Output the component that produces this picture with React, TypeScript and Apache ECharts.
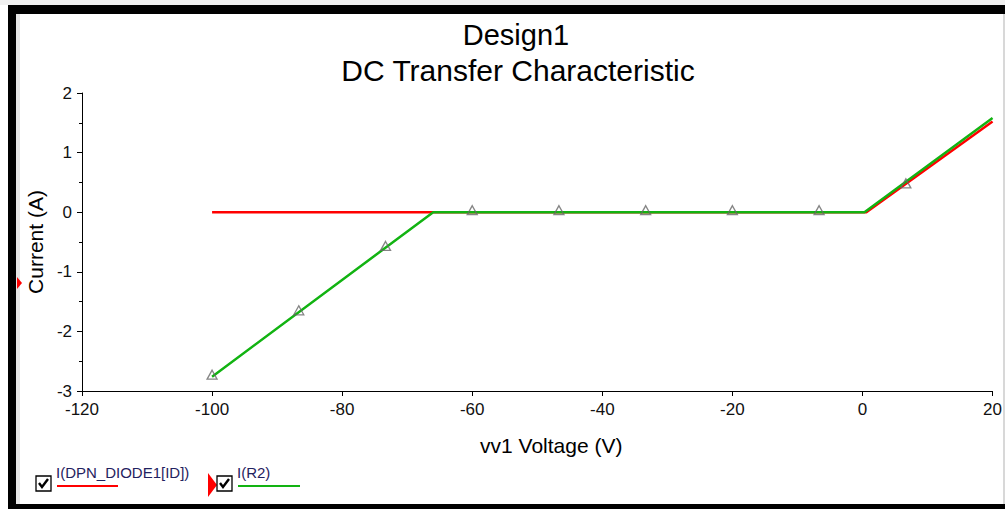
import React, { useEffect, useRef } from "react";
import * as echarts from "echarts";

// ---- data ----
const xTicks = { min: -120, max: 20, interval: 20 };
const yTicks = { min: -3, max: 2, interval: 1 };

const diodeV = [-100, -66, 0.6, 20];
const diodeI = [0, 0, 0, 1.52];

const r2V = [-100, -66, 0.3, 20];
const r2I = [-2.76, 0, 0, 1.58];

const markerV = [-100, -86.67, -73.33, -60, -46.67, -33.33, -20, -6.67, 6.67];
const markerI = [-2.76, -1.68, -0.6, 0, 0, 0, 0, 0, 0.45];

const titleLine1 = "Design1";
const titleLine2 = "DC Transfer Characteristic";
const xName = "vv1 Voltage (V)";
const yName = "Current (A)";
const legendNames = ["I(DPN_DIODE1[ID])", "I(R2)"];

const RED = "#ff0000";
const GREEN = "#12b312";
const SANS = "'Liberation Sans', Arial, sans-serif";

export default function App() {
  const ref = useRef<HTMLDivElement>(null);
  useEffect(() => {
    if (!ref.current) return;
    const chart = echarts.init(ref.current, undefined, { renderer: "svg" });
    const zip = (a: number[], b: number[]) => a.map((v, i) => [v, b[i]]);
    const check = (x: number, y: number) => [
      { type: "rect", shape: { x, y, width: 15, height: 15 }, style: { fill: "#fff", stroke: "#000", lineWidth: 1.3 } },
      { type: "polyline", shape: { points: [[x + 3, y + 7], [x + 6, y + 11], [x + 12, y + 3]] }, style: { stroke: "#000", lineWidth: 2.4, fill: null } },
    ];
    chart.setOption({
      animation: false,
      backgroundColor: "#fff",
      title: [
        { text: titleLine1, left: 511, textAlign: "center", top: 15, textStyle: { fontFamily: SANS, fontSize: 29, fontWeight: "normal", color: "#000" } },
        { text: titleLine2, left: 513, textAlign: "center", top: 50, textStyle: { fontFamily: SANS, fontSize: 30, fontWeight: "normal", color: "#000" } },
      ],
      grid: { left: 82, top: 93, width: 915, height: 298, containLabel: false },
      xAxis: {
        type: "value",
        min: xTicks.min,
        max: xTicks.max,
        interval: xTicks.interval,
        name: xName,
        nameLocation: "middle",
        nameGap: 44,
        nameTextStyle: { fontFamily: SANS, fontSize: 21, color: "#000", padding: [0, 0, 0, 28] },
        axisLine: { onZero: false, lineStyle: { color: "#000", width: 1 } },
        axisTick: { inside: false, length: 5, lineStyle: { color: "#000" } },
        axisLabel: { fontFamily: SANS, fontSize: 17, color: "#111", margin: 10 },
        splitLine: { show: false },
      },
      yAxis: {
        type: "value",
        min: yTicks.min,
        max: yTicks.max,
        interval: yTicks.interval,
        name: yName,
        nameLocation: "middle",
        nameGap: 36,
        nameRotate: 90,
        nameTextStyle: { fontFamily: SANS, fontSize: 21, color: "#000" },
        axisLine: { show: true, onZero: false, lineStyle: { color: "#000", width: 1 } },
        axisTick: { show: true, inside: false, length: 5, lineStyle: { color: "#000" } },
        minorTick: { show: true, splitNumber: 2, length: 3, lineStyle: { color: "#000" } },
        axisLabel: { fontFamily: SANS, fontSize: 17, color: "#111", margin: 10 },
        splitLine: { show: false },
      },
      series: [
        {
          type: "line",
          name: legendNames[0],
          data: zip(diodeV, diodeI),
          showSymbol: false,
          lineStyle: { color: RED, width: 2.5 },
          z: 2,
        },
        {
          type: "line",
          name: legendNames[1],
          data: zip(r2V, r2I),
          showSymbol: false,
          lineStyle: { color: GREEN, width: 2.5 },
          z: 3,
        },
        {
          type: "scatter",
          data: zip(markerV, markerI),
          symbol: "triangle",
          symbolSize: [10, 9],
          symbolOffset: [0, -2],
          itemStyle: { color: "transparent", borderColor: "#666", borderWidth: 1.3 },
          z: 4,
        },
      ],
      graphic: [
        // frame
        { type: "rect", shape: { x: 0, y: 0, width: 1005, height: 5 }, style: { fill: "#f0f0f0" } },
        { type: "rect", shape: { x: 8, y: 5, width: 997, height: 9 }, style: { fill: "#000" } },
        { type: "rect", shape: { x: 8, y: 5, width: 8, height: 504 }, style: { fill: "#000" } },
        { type: "rect", shape: { x: 16, y: 14, width: 4, height: 490 }, style: { fill: "#e6e6e6" } },
        { type: "rect", shape: { x: 8, y: 504, width: 997, height: 5 }, style: { fill: "#000" } },
        { type: "rect", shape: { x: 1003, y: 14, width: 2, height: 490 }, style: { fill: "#d8d8d8" } },
        // cursor markers
        { type: "polygon", shape: { points: [[17, 277], [22, 283], [17, 289]] }, style: { fill: RED } },
        { type: "polygon", shape: { points: [[208, 473], [217, 485], [208, 497]] }, style: { fill: RED } },
        // legend
        ...check(36, 476),
        { type: "text", x: 56, y: 465, style: { text: legendNames[0], fontFamily: SANS, fontSize: 15, fill: "#1f2260" } },
        { type: "line", shape: { x1: 57, y1: 486, x2: 118, y2: 486 }, style: { stroke: RED, lineWidth: 2 } },
        ...check(217, 476),
        { type: "text", x: 237, y: 465, style: { text: legendNames[1], fontFamily: SANS, fontSize: 15, fill: "#1f2260" } },
        { type: "line", shape: { x1: 238, y1: 486, x2: 300, y2: 486 }, style: { stroke: GREEN, lineWidth: 2 } },
      ],
    });
    return () => chart.dispose();
  }, []);
  return (
    <div
      ref={ref}
      style={{ position: "absolute", left: 0, top: 0, width: 1005, height: 509 }}
    />
  );
}
